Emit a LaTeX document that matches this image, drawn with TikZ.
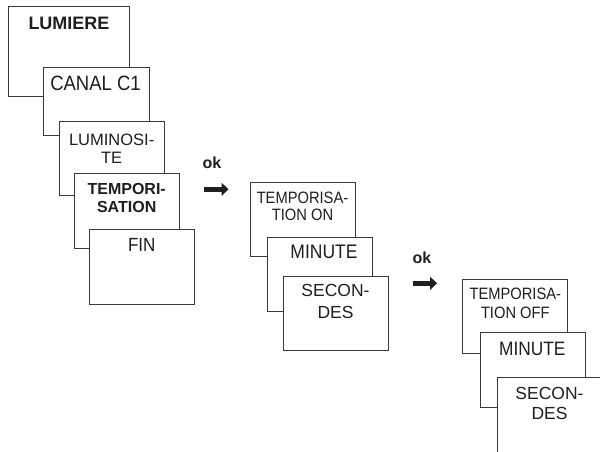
\documentclass[tikz,border=0pt]{standalone}
\usepackage{fontspec}
\setmainfont{Liberation Sans}
\usetikzlibrary{arrows.meta}
\definecolor{edge}{HTML}{3A3A3A}
\definecolor{ink}{HTML}{1E1E1E}
\begin{document}
\begin{tikzpicture}[x=1pt,y=-1pt,
  box/.style={draw=edge, line width=1pt, fill=white, rectangle, inner sep=0pt,
    anchor=north west, minimum width=105pt, minimum height=74pt},
  lbl/.style={text=ink, inner sep=0pt, align=center},
  tall/.style={yscale=1.12},
  txt/.style 2 args={font=\fontsize{#1}{#2}\selectfont},
  oklbl/.style={text=ink, inner sep=0pt, font=\fontsize{16}{18}\selectfont\bfseries, anchor=base},
  okarrow/.style={draw=ink, line width=5pt, -{Triangle[length=7pt,width=13pt]}}]
\useasboundingbox[fill=white] (0,0) rectangle (600,451);

% group 1
\node[box, minimum width=121pt, minimum height=90pt] (b1) at (8,6) {};
\node[lbl, font=\fontsize{18}{21}\selectfont\bfseries, anchor=base] (t1) at (69,29.3) {LUMIERE};
\node[box, minimum width=106pt, minimum height=68pt] (b2) at (43,67) {};
\node[lbl, tall, txt={18.5}{22}, anchor=base] (t2) at (95.5,90.7) {CANAL C1};
\node[box] (b3) at (59,121) {};
\node[lbl, txt={16.5}{18.5}, anchor=north] (t3) at (111.7,133.3) {LUMINOSI-\\TE};
\node[box, minimum height=75pt] (b4) at (74,173) {};
\node[lbl, font=\fontsize{16}{18.7}\selectfont\bfseries, anchor=north] (t4) at (126.7,182.8) {TEMPORI-\\SATION};
\node[box, minimum height=75pt] (b5) at (89,229) {};
\node[lbl, tall, txt={17}{20}, anchor=base] (t5) at (141.7,251.7) {FIN};

% arrow 1
\node[oklbl] (ok1) at (212,168.5) {ok};
\coordinate (a1s) at (204,189.3);
\coordinate (a1e) at (228.5,189.3);
\draw[okarrow] (a1s) -- (a1e);

% group 2
\node[box] (c1) at (250,182) {};
\node[lbl, tall, txt={14.7}{15.8}, anchor=north] (u1) at (302.5,191.5) {TEMPORISA-\\TION ON};
\node[box] (c2) at (267,237) {};
\node[lbl, tall, txt={17.5}{21}, anchor=base] (u2) at (324,258.3) {MINUTE};
\node[box] (c3) at (283,276) {};
\node[lbl, txt={17.5}{21.6}, anchor=north] (u3) at (335.5,284.3) {SECON-\\DES};

% arrow 2
\node[oklbl] (ok2) at (422,263.3) {ok};
\coordinate (a2s) at (413,283.3);
\coordinate (a2e) at (437,283.3);
\draw[okarrow] (a2s) -- (a2e);

% group 3
\node[box] (d1) at (462,279) {};
\node[lbl, tall, txt={14.7}{16.7}, anchor=north] (v1) at (515.3,288) {TEMPORISA-\\TION OFF};
\node[box, minimum height=75pt] (d2) at (480,332) {};
\node[lbl, tall, txt={17.3}{21}, anchor=base] (v2) at (532.3,355) {MINUTE};
\node[box, minimum height=75pt] (d3) at (497,377) {};
\node[lbl, txt={17.5}{20}, anchor=north] (v3) at (549.5,387.5) {SECON-\\DES};
\end{tikzpicture}
\end{document}
